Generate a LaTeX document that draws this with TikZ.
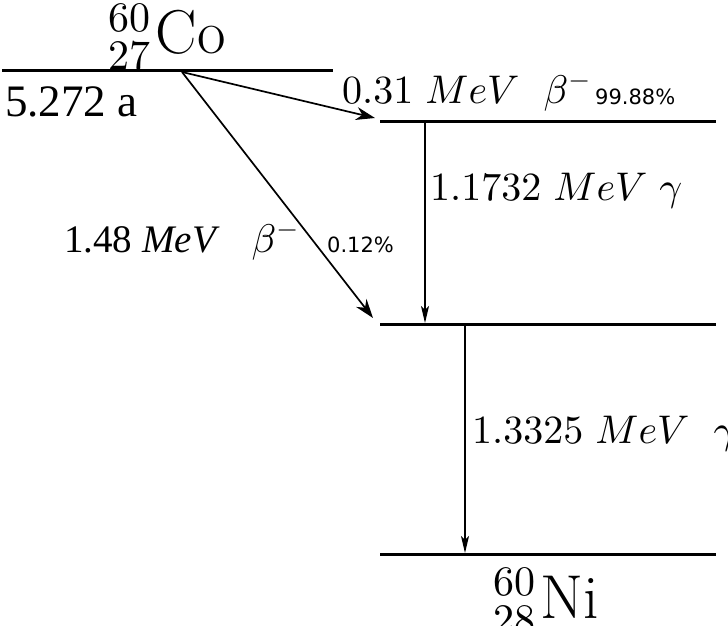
\documentclass[tikz,border=0pt]{standalone}
\usepackage{fontspec}
\newfontfamily\halffont{Liberation Serif}
\newfontfamily\pctfont{DejaVu Sans}
\DeclareFontShape{OT1}{cmr}{m}{n}{<->cmr10}{}
\DeclareFontShape{OML}{cmm}{m}{it}{<->cmmi10}{}
\DeclareFontShape{OMS}{cmsy}{m}{n}{<->cmsy10}{}
\DeclareMathSizes{62}{62}{42}{30}
\usepackage{tikz}
\usetikzlibrary{arrows.meta,positioning}

\begin{document}
\begin{tikzpicture}[x=1pt,y=-1pt,
  level/.style={line width=3pt},
  betaarrow/.style={line width=1.7pt,-{Stealth[length=19pt,width=13pt,inset=6pt]}},
  gammaarrow/.style={line width=1.3pt,-{Stealth[length=17pt,width=8pt,inset=4pt]}},
  lab/.style={anchor=base west,inner sep=0pt}]
\useasboundingbox[fill=white] (0,0) rectangle (728,626);

\coordinate (coL) at (2,71);
\coordinate (coR) at (333,71);
\coordinate (lvAL) at (380,121);
\coordinate (lvAR) at (716,121);
\coordinate (lvBL) at (380,324);
\coordinate (lvBR) at (716,324);
\coordinate (niL) at (380,554);
\coordinate (niR) at (716,554);
\coordinate (src) at (182,72);
\coordinate (tipA) at (375,118);
\coordinate (tipB) at (373,318);
\coordinate (gAtop) at (425,121);
\coordinate (gAbot) at (425,323);
\coordinate (gBtop) at (465,324);
\coordinate (gBbot) at (465,553);

\draw[level] (coL) -- (coR);
\draw[level] (lvAL) -- (lvAR);
\draw[level] (lvBL) -- (lvBR);
\draw[level] (niL) -- (niR);

\draw[betaarrow] (src) -- (tipA);
\draw[betaarrow] (src) -- (tipB);
\draw[gammaarrow] (gAtop) -- (gAbot);
\draw[gammaarrow] (gBtop) -- (gBbot);

\node (colabel) [lab] at (108,54) {\fontsize{62}{68}\selectfont${}^{60}_{27}\mskip1.5mu\mathrm{Co}$};
\node (halflife) [lab] at (5,116) {\fontsize{45}{52}\halffont 5.272 a};
\node (betaA) [lab] at (342,103) {\fontsize{40}{48}\selectfont$0.31\ MeV\ \ \beta^-$};
\node (pctA) [lab] at (595,104) {\fontsize{21}{25}\pctfont 99.88\%};
\node (gammaA) [lab] at (430,200) {\fontsize{40}{48}\selectfont$1.1732\ MeV\ \gamma$};
\node (betaB) [lab] at (64,252) {\fontsize{39}{46}\halffont 1.48 \textit{MeV}\hspace{32pt}\fontsize{40}{48}\selectfont$\beta^-$};
\node (pctB) [lab] at (327,252) {\fontsize{21}{25}\pctfont 0.12\%};
\node (gammaB) [lab] at (472,443) {\fontsize{40}{48}\selectfont$1.3325\ MeV\ \ \gamma$};
\node (nilabel) [lab] at (493,618) {\fontsize{62}{68}\selectfont${}^{60}_{28}\mskip1.5mu\mathrm{Ni}$};
\end{tikzpicture}
\end{document}
